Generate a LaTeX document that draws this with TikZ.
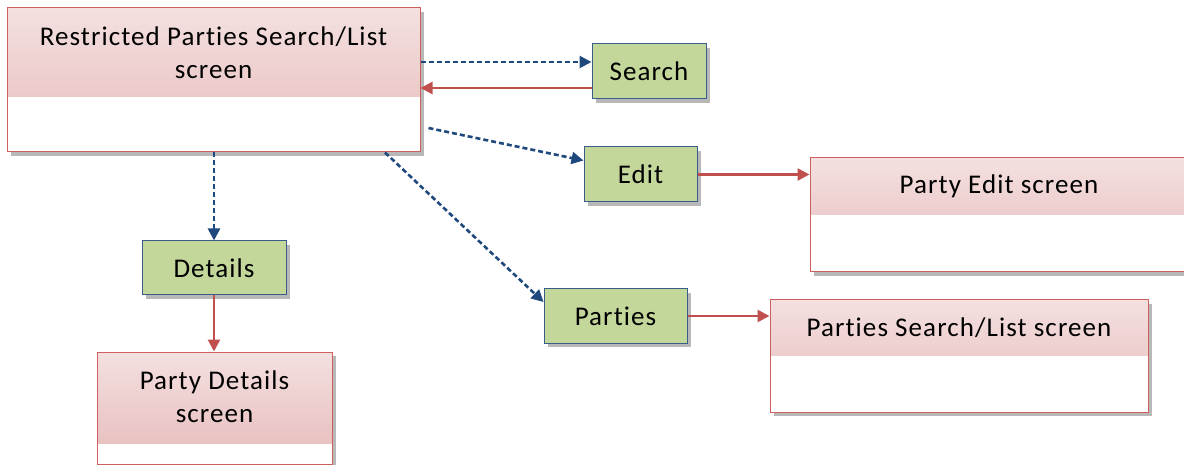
\documentclass[tikz,border=0pt]{standalone}
\usepackage{fontspec}
\setmainfont{Carlito}[Ligatures=NoCommon,LetterSpace=4]
\usetikzlibrary{arrows.meta,shadows,calc}
\definecolor{pinktop}{RGB}{244,224,224}
\definecolor{pinkbot}{RGB}{230,187,186}
\definecolor{boxred}{RGB}{205,95,95}
\definecolor{greenfill}{RGB}{196,215,155}
\definecolor{greenline}{RGB}{56,93,138}
\definecolor{arrblue}{RGB}{31,73,125}
\definecolor{arrred}{RGB}{192,80,77}
\tikzset{
  screen/.style={rectangle, draw=boxred, line width=1pt, fill=white, inner sep=0pt,
    drop shadow={shadow xshift=4pt, shadow yshift=-4pt, fill=black!35, opacity=0.8},
    path picture={\shade[top color=pinktop, bottom color=pinkbot]
      (path picture bounding box.north west) rectangle ([yshift=-#1]path picture bounding box.north east);}},
  choice/.style={rectangle, draw=greenline, line width=1pt, fill=greenfill, inner sep=0pt,
    drop shadow={shadow xshift=4pt, shadow yshift=-4pt, fill=black!35, opacity=0.8},
    font=\fontsize{27}{33}\selectfont},
  label/.style={align=center, inner sep=0pt, font=\fontsize{27}{33}\selectfont},
  bluearrow/.style={draw=arrblue, line width=2.6pt, dash pattern=on 5pt off 3pt,
    -{Triangle[length=12pt,width=12pt]}},
  redarrow/.style={draw=arrred, line width=2.6pt, -{Triangle[length=12pt,width=12pt]}},
}
\begin{document}
\begin{tikzpicture}[x=1pt,y=-1pt]
\useasboundingbox (0,0) rectangle (1184,465);
% screen boxes
\node[screen=89pt, minimum width=413pt, minimum height=144pt] (main) at (213.5,80) {};
\node[label] (mainlbl) at (213.5,53) {Restricted Parties Search/List\\screen};
\node[screen=91pt, minimum width=235pt, minimum height=112pt] (pdet) at (214.5,408) {};
\node[label] (pdetlbl) at (214.5,397) {Party Details\\screen};
\node[screen=57pt, minimum width=378pt, minimum height=114pt] (pedit) at (999,215) {};
\node[label] (peditlbl) at (999,186.5) {Party Edit screen};
\node[screen=55pt, minimum width=378pt, minimum height=112pt] (psl) at (959,356) {};
\node[label] (psllbl) at (959,328) {Parties Search/List screen};
% choice boxes
\node[choice, minimum width=114pt, minimum height=55pt] (search) at (649,71.5) {Search};
\node[choice, minimum width=113pt, minimum height=55pt] (edit) at (640.5,174.5) {Edit};
\node[choice, minimum width=144pt, minimum height=54pt] (details) at (214,268) {Details};
\node[choice, minimum width=143pt, minimum height=54pt] (parties) at (615.5,316) {Parties};
% connectors
\coordinate (sIn) at ([yshift=9.5pt]search.west);
\coordinate (sOut) at ([yshift=-16.5pt]search.west);
\draw[bluearrow] (main.east |- sIn) -- (sIn);
\draw[redarrow] (sOut) -- (main.east |- sOut);
\draw[bluearrow] ([xshift=8pt,yshift=-48pt]main.east) -- ([yshift=14pt]edit.west);
\draw[bluearrow] ([xshift=171.5pt]main.south) -- ([yshift=14pt]parties.west);
\draw[bluearrow] (details.north |- main.south) -- (details.north);
\draw[redarrow] (details.south) -- (details.south |- pdet.north);
\draw[redarrow] (edit.east) -- (pedit.west |- edit.east);
\draw[redarrow] (parties.east) -- (psl.west |- parties.east);
\end{tikzpicture}
\end{document}
